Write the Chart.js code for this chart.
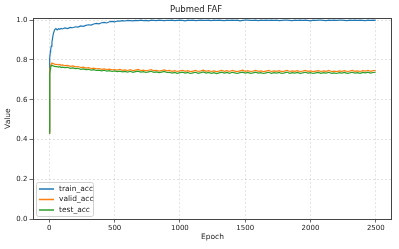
<!DOCTYPE html>
<html>
<head>
<meta charset="utf-8">
<script src="https://cdn.jsdelivr.net/npm/chart.js@4.4.1/dist/chart.umd.min.js"></script>
<style>
  html, body { margin: 0; padding: 0; background: #fff; }
  #wrap { width: 399px; height: 249px; }
</style>
</head>
<body>
<div id="wrap"><canvas id="chart" width="399" height="249"></canvas></div>
<script>
const chartTitle = 'Pubmed FAF';

const epochs = [
  0, 1, 2, 3, 5, 8, 10, 15, 20, 30, 40, 50, 60, 70, 80, 90, 100,
  120, 140, 160, 180, 200, 220, 240, 260, 280, 300,
  320, 340, 360, 380, 400, 420, 440, 460, 480, 500,
  520, 540, 560, 580, 600, 620, 640, 660, 680, 700,
  720, 740, 760, 780, 800, 820, 840, 860, 880, 900,
  920, 940, 960, 980, 1000, 1020, 1040, 1060, 1080, 1100,
  1120, 1140, 1160, 1180, 1200, 1220, 1240, 1260, 1280, 1300,
  1320, 1340, 1360, 1380, 1400, 1420, 1440, 1460, 1480, 1500,
  1520, 1540, 1560, 1580, 1600, 1620, 1640, 1660, 1680, 1700,
  1720, 1740, 1760, 1780, 1800, 1820, 1840, 1860, 1880, 1900,
  1920, 1940, 1960, 1980, 2000, 2020, 2040, 2060, 2080, 2100,
  2120, 2140, 2160, 2180, 2200, 2220, 2240, 2260, 2280, 2300,
  2320, 2340, 2360, 2380, 2400, 2420, 2440, 2460, 2480, 2499
];

const trainAcc = [
  0.44, 0.60, 0.70, 0.76, 0.81, 0.84, 0.85, 0.87, 0.89, 0.93, 0.952, 0.958, 0.951, 0.957, 0.954, 0.959, 0.956,
  0.961, 0.958, 0.964, 0.962, 0.967, 0.965, 0.971, 0.969, 0.974, 0.977,
  0.975, 0.981, 0.984, 0.982, 0.987, 0.989, 0.986, 0.992, 0.994, 0.992,
  0.996, 0.995, 0.998, 0.996, 0.999, 0.998, 0.997, 0.999, 0.998, 1.0,
  0.998, 0.999, 0.997, 1.0, 0.999, 0.998, 1.0, 0.999, 0.998, 0.999,
  0.999, 1.0, 0.998, 0.999, 1.0, 0.999, 0.997, 1.0, 0.999, 1.0,
  0.998, 0.999, 1.0, 0.999, 0.999, 1.0, 0.998, 1.0, 0.999, 1.0,
  0.999, 0.998, 1.0, 0.999, 1.0, 0.999, 1.0, 0.997, 0.999, 1.0,
  1.0, 0.999, 0.999, 1.0, 0.998, 1.0, 0.999, 1.0, 0.999, 1.0,
  0.999, 1.0, 0.998, 0.999, 1.0, 1.0, 0.999, 0.998, 1.0, 0.999,
  1.0, 0.999, 1.0, 0.999, 0.997, 1.0, 0.999, 1.0, 1.0, 0.999,
  0.998, 1.0, 0.999, 1.0, 0.999, 1.0, 1.0, 0.999, 0.998, 1.0,
  0.999, 1.0, 0.999, 1.0, 0.999, 0.998, 1.0, 0.999, 1.0, 0.999
];

const validAcc = [
  0.43, 0.55, 0.64, 0.70, 0.74, 0.765, 0.773, 0.780, 0.784, 0.782, 0.779, 0.777, 0.778, 0.775, 0.777, 0.773, 0.775,
  0.771, 0.773, 0.768, 0.770, 0.765, 0.767, 0.762, 0.764, 0.759, 0.761,
  0.757, 0.759, 0.755, 0.757, 0.753, 0.755, 0.752, 0.754, 0.750, 0.752,
  0.749, 0.753, 0.748, 0.750, 0.747, 0.751, 0.746, 0.749, 0.752, 0.747,
  0.749, 0.745, 0.748, 0.751, 0.746, 0.748, 0.744, 0.747, 0.750, 0.745,
  0.747, 0.743, 0.746, 0.742, 0.745, 0.748, 0.743, 0.746, 0.741, 0.744,
  0.747, 0.742, 0.745, 0.749, 0.743, 0.746, 0.742, 0.745, 0.741, 0.744,
  0.748, 0.743, 0.746, 0.742, 0.747, 0.744, 0.741, 0.745, 0.749, 0.743,
  0.746, 0.742, 0.744, 0.748, 0.743, 0.745, 0.741, 0.744, 0.747, 0.742,
  0.745, 0.743, 0.746, 0.741, 0.744, 0.748, 0.742, 0.745, 0.743, 0.746,
  0.742, 0.744, 0.747, 0.743, 0.745, 0.741, 0.744, 0.746, 0.742, 0.745,
  0.743, 0.747, 0.742, 0.744, 0.741, 0.745, 0.743, 0.746, 0.742, 0.744,
  0.747, 0.743, 0.745, 0.742, 0.746, 0.744, 0.748, 0.743, 0.746, 0.747
];

const testAcc = [
  0.43, 0.55, 0.63, 0.69, 0.73, 0.755, 0.764, 0.771, 0.773, 0.770, 0.768, 0.766, 0.767, 0.764, 0.766, 0.762, 0.764,
  0.761, 0.763, 0.758, 0.760, 0.756, 0.758, 0.753, 0.755, 0.751, 0.753,
  0.749, 0.751, 0.747, 0.749, 0.745, 0.748, 0.744, 0.746, 0.742, 0.745,
  0.741, 0.744, 0.740, 0.742, 0.739, 0.743, 0.738, 0.741, 0.744, 0.739,
  0.741, 0.737, 0.740, 0.743, 0.738, 0.740, 0.736, 0.739, 0.742, 0.737,
  0.738, 0.734, 0.737, 0.733, 0.736, 0.739, 0.734, 0.737, 0.732, 0.735,
  0.738, 0.733, 0.736, 0.740, 0.734, 0.737, 0.733, 0.736, 0.731, 0.735,
  0.739, 0.734, 0.737, 0.733, 0.738, 0.735, 0.732, 0.736, 0.739, 0.734,
  0.737, 0.733, 0.735, 0.739, 0.734, 0.736, 0.732, 0.735, 0.738, 0.733,
  0.736, 0.734, 0.737, 0.732, 0.735, 0.739, 0.733, 0.736, 0.734, 0.737,
  0.733, 0.735, 0.738, 0.734, 0.736, 0.732, 0.735, 0.737, 0.733, 0.736,
  0.734, 0.738, 0.733, 0.735, 0.732, 0.736, 0.734, 0.737, 0.733, 0.735,
  0.738, 0.734, 0.736, 0.733, 0.737, 0.735, 0.739, 0.734, 0.737, 0.738
];

const seriesNames = ['train_acc', 'valid_acc', 'test_acc'];
const seriesColors = ['#1f77b4', '#ff7f0e', '#2ca02c'];
const xTicks = [0, 500, 1000, 1500, 2000, 2500];
const yTicks = [0.0, 0.2, 0.4, 0.6, 0.8, 1.0];

const FONT = "'DejaVu Sans', sans-serif";

function points(ys) {
  return epochs.map((e, i) => ({ x: e, y: ys[i] }));
}

// frame around the plot, like matplotlib spines
const framePlugin = {
  id: 'frame',
  afterDatasetsDraw(chart) {
    const { ctx, chartArea: a } = chart;
    ctx.save();
    ctx.strokeStyle = '#444';
    ctx.lineWidth = 1;
    ctx.strokeRect(Math.round(a.left) + 0.5, Math.round(a.top) + 0.5,
      Math.round(a.right - a.left) - 1, Math.round(a.bottom - a.top));
    ctx.restore();
  }
};

// legend box in the lower left corner of the plot
const legendPlugin = {
  id: 'boxLegend',
  afterDraw(chart) {
    const { ctx, chartArea: a } = chart;
    const x = a.left + 3, w = 57, h = 34;
    const y = a.bottom - 3 - h;
    ctx.save();
    ctx.fillStyle = 'rgba(255,255,255,0.8)';
    ctx.strokeStyle = '#d0d0d0';
    ctx.lineWidth = 1;
    ctx.beginPath();
    ctx.roundRect(x + 0.5, y + 0.5, w, h, 2);
    ctx.fill();
    ctx.stroke();
    ctx.font = '7.5px ' + FONT;
    ctx.textBaseline = 'middle';
    ctx.fillStyle = '#222';
    chart.data.datasets.forEach((ds, i) => {
      const ly = y + 7 + i * 10.5;
      ctx.strokeStyle = ds.borderColor;
      ctx.lineWidth = 1.5;
      ctx.beginPath();
      ctx.moveTo(x + 3, ly);
      ctx.lineTo(x + 18, ly);
      ctx.stroke();
      ctx.fillText(ds.label, x + 23, ly);
    });
    ctx.restore();
  }
};

new Chart(document.getElementById('chart').getContext('2d'), {
  type: 'line',
  data: {
    datasets: [
      { label: seriesNames[0], data: points(trainAcc), borderColor: seriesColors[0], order: 2 },
      { label: seriesNames[1], data: points(validAcc), borderColor: seriesColors[1], order: 1 },
      { label: seriesNames[2], data: points(testAcc), borderColor: seriesColors[2], order: 0 }
    ]
  },
  options: {
    responsive: false,
    animation: false,
    layout: { padding: { left: 0, right: 7, top: 0, bottom: 0 } },
    elements: {
      point: { radius: 0 },
      line: { borderWidth: 1.2, tension: 0 }
    },
    plugins: {
      legend: { display: false },
      tooltip: { enabled: false },
      title: {
        display: true,
        text: chartTitle,
        color: '#222',
        font: { family: FONT, size: 8.5, weight: 'normal' },
        padding: { top: 5, bottom: 3 }
      }
    },
    scales: {
      x: {
        type: 'linear',
        min: -125,
        max: 2624,
        afterFit: (s) => { s.height = 30; },
        afterBuildTicks: (s) => { s.ticks = xTicks.map((v) => ({ value: v })); },
        grid: {
          color: 'rgba(176,176,176,0.45)',
          lineWidth: 0.8,
          tickLength: 3.5,
          tickColor: '#444',
          tickBorderDash: []
        },
        border: { display: false, dash: [2, 2] },
        ticks: {
          color: '#222',
          font: { family: FONT, size: 7 },
          padding: 1.5,
          maxRotation: 0,
          callback: (v) => String(v)
        },
        title: {
          display: true,
          text: 'Epoch',
          color: '#222',
          font: { family: FONT, size: 7.5 },
          padding: { top: 0, bottom: 7.5 }
        }
      },
      y: {
        min: 0,
        max: 1.01,
        afterFit: (s) => { s.width = 33; },
        afterBuildTicks: (s) => { s.ticks = yTicks.map((v) => ({ value: v })); },
        grid: {
          color: 'rgba(176,176,176,0.45)',
          lineWidth: 0.8,
          tickLength: 3.5,
          tickColor: '#444',
          tickBorderDash: []
        },
        border: { display: false, dash: [2, 2] },
        ticks: {
          color: '#222',
          font: { family: FONT, size: 7 },
          padding: 2,
          callback: (v) => v.toFixed(1)
        },
        title: {
          display: true,
          text: 'Value',
          color: '#222',
          font: { family: FONT, size: 7.5 },
          padding: { top: 3.5, bottom: 0 }
        }
      }
    }
  },
  plugins: [framePlugin, legendPlugin]
});
</script>
</body>
</html>
